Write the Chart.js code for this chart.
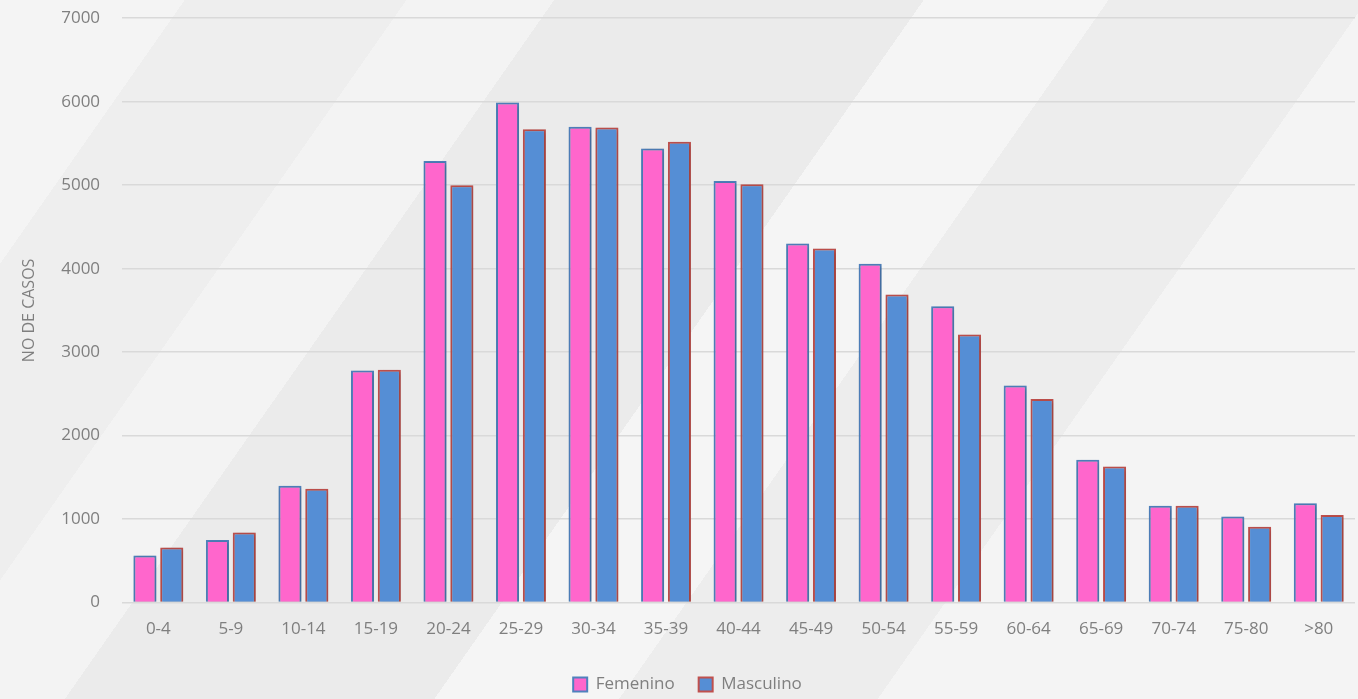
<!DOCTYPE html>
<html lang="es">
<head>
    <meta charset="UTF-8">
    <title>Casos por grupo de edad</title>
    <script src="https://cdn.jsdelivr.net/npm/chart.js"></script>
    <style>
        html, body {
            margin: 0;
            padding: 0;
            width: 1358px;
            height: 699px;
            overflow: hidden;
        }
        body {
            background-color: #efefef;
            background-image: linear-gradient(125deg,
                #f4f4f4 0%, #f4f4f4 10%,
                #eeeeee 10%, #eeeeee 22%,
                #f3f3f3 22%, #f3f3f3 30%,
                #ebebeb 30%, #ebebeb 50%,
                #f5f5f5 50%, #f5f5f5 60%,
                #ededed 60%, #ededed 74%,
                #f4f4f4 74%, #f4f4f4 100%);
        }
        #wrap {
            position: relative;
            width: 1358px;
            height: 717px;
            margin-top: -14px;
        }
    </style>
</head>
<body>
<div id="wrap">
    <canvas id="chart"></canvas>
</div>
<script>
    const ageGroups = ['0-4', '5-9', '10-14', '15-19', '20-24', '25-29', '30-34', '35-39', '40-44',
        '45-49', '50-54', '55-59', '60-64', '65-69', '70-74', '75-80', '>80'];
    const femenino = [565, 750, 1400, 2780, 5290, 5990, 5700, 5440, 5050,
        4300, 4060, 3550, 2600, 1710, 1160, 1030, 1190];
    const masculino = [660, 840, 1365, 2790, 5000, 5670, 5690, 5520, 5010,
        4240, 3690, 3210, 2440, 1630, 1160, 910, 1050];
    const yTicks = [0, 1000, 2000, 3000, 4000, 5000, 6000, 7000];

    const textColor = '#7f7f7f';
    const fontFamily = '"Open Sans", "Liberation Sans", sans-serif';

    // soft shadow under the bars
    const barShadow = {
        id: 'barShadow',
        beforeDatasetsDraw(chart) {
            const ctx = chart.ctx;
            ctx.save();
            ctx.shadowColor = 'rgba(0, 0, 0, 0.25)';
            ctx.shadowBlur = 4;
            ctx.shadowOffsetX = 1;
            ctx.shadowOffsetY = 1;
        },
        afterDatasetsDraw(chart) {
            chart.ctx.restore();
        }
    };

    new Chart(document.getElementById('chart'), {
        type: 'bar',
        data: {
            labels: ageGroups,
            datasets: [{
                label: 'Femenino',
                data: femenino,
                backgroundColor: '#ff66cc',
                borderColor: '#4f81bd',
                borderWidth: 2,
                categoryPercentage: 0.74,
                barPercentage: 0.86
            }, {
                label: 'Masculino',
                data: masculino,
                backgroundColor: '#558ed5',
                borderColor: '#c0504d',
                borderWidth: 2,
                categoryPercentage: 0.74,
                barPercentage: 0.86
            }]
        },
        options: {
            responsive: true,
            maintainAspectRatio: false,
            animation: false,
            layout: {
                padding: { top: 0, right: 3, left: 20, bottom: 0 }
            },
            scales: {
                x: {
                    grid: { display: false },
                    border: { display: false },
                    ticks: {
                        color: textColor,
                        font: { family: fontFamily, size: 17 },
                        padding: 8
                    },
                    afterFit(scale) {
                        scale.height += 5;
                    }
                },
                y: {
                    min: 0,
                    max: 7000,
                    afterBuildTicks(axis) {
                        axis.ticks = yTicks.map(v => ({ value: v }));
                    },
                    grid: { color: '#d9d9d9', lineWidth: 1.5, drawTicks: false },
                    border: { display: false },
                    ticks: {
                        color: textColor,
                        font: { family: fontFamily, size: 17 },
                        padding: 22,
                        callback: v => String(v)
                    },
                    title: {
                        display: true,
                        text: 'NO DE CASOS',
                        color: textColor,
                        font: { family: fontFamily, size: 16 },
                        padding: { top: 0, bottom: 0 }
                    }
                }
            },
            plugins: {
                legend: {
                    position: 'bottom',
                    labels: {
                        color: textColor,
                        font: { family: fontFamily, size: 17 },
                        boxWidth: 14,
                        boxHeight: 14,
                        padding: 24
                    }
                },
                tooltip: { enabled: false }
            }
        },
        plugins: [barShadow]
    });
</script>
</body>
</html>
